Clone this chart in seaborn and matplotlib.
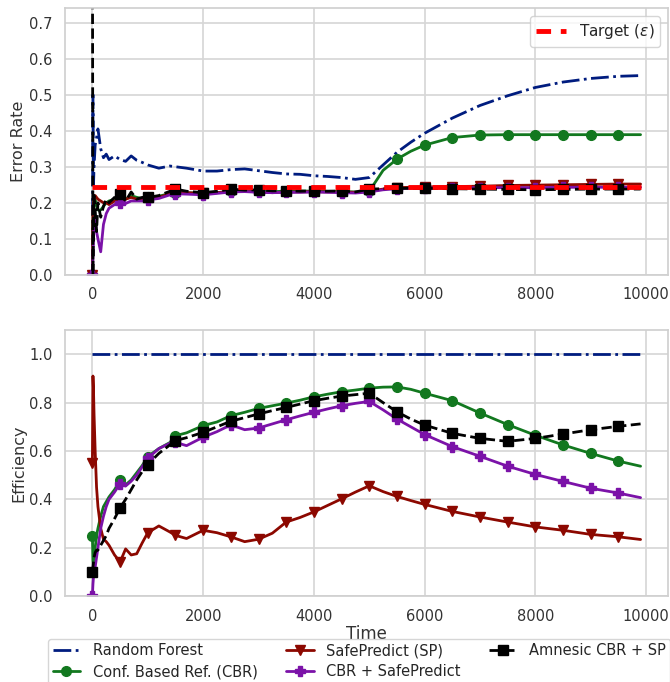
import numpy as np
import pandas as pd
import seaborn as sns
import matplotlib
matplotlib.use("Agg")
import matplotlib.pyplot as plt

# ---------------- data ----------------
time = [0, 10, 20, 30, 50, 75, 100, 150, 200, 250, 300, 400, 500, 600, 700, 800, 900,
        1000, 1200, 1400, 1500, 1700, 2000, 2250, 2500, 2750, 3000, 3250, 3500, 3750,
        4000, 4250, 4500, 4750, 5000, 5250, 5500, 5750, 6000, 6500, 7000, 7500, 8000,
        8500, 9000, 9500, 9900]

# Error rate (top panel)
err_rf = [0.0, 0.50, 0.25, 0.30, 0.36, 0.38, 0.405, 0.35, 0.325, 0.335, 0.32, 0.33, 0.32,
          0.315, 0.33, 0.318, 0.312, 0.305, 0.296, 0.302, 0.300, 0.296, 0.288, 0.288, 0.292,
          0.294, 0.289, 0.284, 0.280, 0.279, 0.275, 0.273, 0.270, 0.265, 0.270, 0.305, 0.340,
          0.368, 0.393, 0.435, 0.470, 0.497, 0.520, 0.535, 0.545, 0.551, 0.553]
err_cbr = [0.0, 0.15, 0.20, 0.22, 0.21, 0.19, 0.18, 0.18, 0.19, 0.20, 0.205, 0.21, 0.215,
           0.21, 0.22, 0.215, 0.212, 0.215, 0.218, 0.226, 0.228, 0.228, 0.226, 0.228, 0.232,
           0.233, 0.232, 0.231, 0.232, 0.233, 0.232, 0.232, 0.231, 0.230, 0.232, 0.290, 0.321,
           0.343, 0.360, 0.381, 0.388, 0.389, 0.389, 0.389, 0.389, 0.389, 0.389]
err_sp = [0.0, 0.18, 0.20, 0.21, 0.22, 0.215, 0.21, 0.205, 0.20, 0.20, 0.195, 0.205, 0.205,
          0.21, 0.215, 0.21, 0.21, 0.212, 0.215, 0.225, 0.228, 0.228, 0.226, 0.228, 0.232,
          0.232, 0.230, 0.228, 0.230, 0.230, 0.231, 0.230, 0.230, 0.229, 0.232, 0.238, 0.242,
          0.243, 0.244, 0.245, 0.246, 0.248, 0.249, 0.250, 0.251, 0.252, 0.252]
err_cbr_sp = [0.0, 0.05, 0.10, 0.14, 0.16, 0.12, 0.10, 0.064, 0.14, 0.17, 0.185, 0.195, 0.20,
              0.198, 0.205, 0.205, 0.205, 0.208, 0.212, 0.222, 0.225, 0.224, 0.222, 0.226,
              0.230, 0.231, 0.229, 0.228, 0.229, 0.229, 0.230, 0.229, 0.228, 0.227, 0.230,
              0.236, 0.239, 0.240, 0.241, 0.241, 0.242, 0.242, 0.242, 0.243, 0.243, 0.243, 0.243]
err_amn = [1.0, 0.0, 0.15, 0.22, 0.18, 0.12, 0.20, 0.16, 0.19, 0.21, 0.20, 0.215, 0.225,
           0.205, 0.23, 0.21, 0.215, 0.215, 0.22, 0.232, 0.238, 0.232, 0.228, 0.232, 0.238,
           0.235, 0.236, 0.233, 0.234, 0.232, 0.233, 0.232, 0.233, 0.230, 0.238, 0.239, 0.240,
           0.240, 0.240, 0.239, 0.238, 0.237, 0.236, 0.237, 0.238, 0.238, 0.238]
target_eps = 0.245

# Efficiency (bottom panel)
eff_rf_time = [0, 9900]
eff_rf = [1.0, 1.0]
eff_cbr = [0.25, 0.15, 0.12, 0.16, 0.20, 0.25, 0.28, 0.33, 0.37, 0.39, 0.41, 0.44, 0.478,
           0.46, 0.48, 0.51, 0.54, 0.577, 0.61, 0.635, 0.663, 0.675, 0.705, 0.72, 0.746,
           0.76, 0.776, 0.787, 0.798, 0.81, 0.824, 0.835, 0.845, 0.852, 0.86, 0.864, 0.865,
           0.855, 0.839, 0.808, 0.757, 0.709, 0.665, 0.625, 0.59, 0.558, 0.537]
eff_sp = [0.55, 0.91, 0.85, 0.75, 0.60, 0.45, 0.37, 0.28, 0.235, 0.225, 0.21, 0.17, 0.141,
          0.195, 0.17, 0.175, 0.22, 0.262, 0.29, 0.265, 0.251, 0.238, 0.272, 0.262, 0.245,
          0.225, 0.235, 0.26, 0.306, 0.325, 0.348, 0.375, 0.402, 0.43, 0.456, 0.432, 0.412,
          0.395, 0.379, 0.35, 0.327, 0.306, 0.286, 0.272, 0.255, 0.245, 0.234]
eff_cbr_sp = [0.0, 0.05, 0.08, 0.10, 0.12, 0.16, 0.20, 0.28, 0.33, 0.37, 0.40, 0.43, 0.465,
              0.455, 0.475, 0.50, 0.535, 0.57, 0.61, 0.632, 0.636, 0.622, 0.657, 0.68, 0.708,
              0.688, 0.695, 0.712, 0.729, 0.745, 0.76, 0.774, 0.787, 0.797, 0.805, 0.77,
              0.732, 0.70, 0.668, 0.618, 0.578, 0.537, 0.503, 0.474, 0.446, 0.426, 0.407]
eff_amn = [0.10, 0.12, 0.14, 0.16, 0.18, 0.19, 0.19, 0.21, 0.23, 0.25, 0.28, 0.32, 0.365,
           0.40, 0.44, 0.48, 0.515, 0.544, 0.59, 0.625, 0.643, 0.655, 0.677, 0.70, 0.723,
           0.738, 0.753, 0.767, 0.78, 0.794, 0.808, 0.818, 0.827, 0.833, 0.839, 0.80, 0.762,
           0.732, 0.707, 0.673, 0.652, 0.640, 0.652, 0.670, 0.688, 0.702, 0.712]

labels = ["Random Forest", "Conf. Based Ref. (CBR)", "SafePredict (SP)",
          "CBR + SafePredict", "Amnesic CBR + SP"]
xticks = [0, 2000, 4000, 6000, 8000, 10000]

# ---------------- style ----------------
sns.set_theme(style="whitegrid")
plt.rcParams["font.family"] = ["DejaVu Sans"]
plt.rcParams["axes.edgecolor"] = "#d0d0d0"
plt.rcParams["grid.color"] = "#d6d6d6"
plt.rcParams["grid.linewidth"] = 1.2

C_RF = "#001c7f"
C_CBR = "#12781f"
C_SP = "#8c0800"
C_CS = "#7b12a8"
C_AM = "#000000"

fig = plt.figure(figsize=(6.70, 6.82), dpi=100)
ax1 = fig.add_axes([0.097, 0.597, 0.900, 0.391])
ax2 = fig.add_axes([0.097, 0.126, 0.900, 0.390])

mark_idx = [i for i, t in enumerate(time) if t % 500 == 0]

def draw(ax, series_rf, t_rf, series):
    sns.lineplot(x=t_rf, y=series_rf, ax=ax, color=C_RF, lw=2, linestyle="-.",
                 label=labels[0], legend=False)
    styles = [
        (series[0], C_CBR, "-", "o", labels[1]),
        (series[1], C_SP, "-", "v", labels[2]),
        (series[2], C_CS, "-", "P", labels[3]),
        (series[3], C_AM, "--", "s", labels[4]),
    ]
    for ys, c, ls, m, lab in styles:
        ax.plot(time, ys, color=c, lw=2, linestyle=ls, marker=m, markersize=7,
                markevery=mark_idx, label=lab)

draw(ax1, err_rf, time, [err_cbr, err_sp, err_cbr_sp, err_amn])
tl = ax1.axhline(target_eps, xmin=0.045, xmax=0.955, color="#ff0000", lw=3.5,
                 linestyle=(0, (3, 2)), label="Target ($\\epsilon$)", zorder=5)
ax1.set_ylim(0, 0.74)
ax1.set_xlim(-495, 10395)
ax1.set_xticks(xticks)
ax1.set_yticks([0.0, 0.1, 0.2, 0.3, 0.4, 0.5, 0.6, 0.7])
ax1.set_ylabel("Error Rate", fontsize=11.5, color="#333333", labelpad=2)
ax1.legend(handles=[tl], loc="upper right", fontsize=11, frameon=True,
           handlelength=2.0)

draw(ax2, eff_rf, eff_rf_time, [eff_cbr, eff_sp, eff_cbr_sp, eff_amn])
ax2.set_ylim(0, 1.1)
ax2.set_xlim(-495, 10395)
ax2.set_xticks(xticks)
ax2.set_yticks([0.0, 0.2, 0.4, 0.6, 0.8, 1.0])
ax2.set_ylabel("Efficiency", fontsize=11.5, color="#333333", labelpad=2)
ax2.set_xlabel("Time", fontsize=12, color="#333333", labelpad=1)

for ax in (ax1, ax2):
    ax.tick_params(labelsize=10.5, colors="#333333", pad=3)
    for s in ax.spines.values():
        s.set_color("#d0d0d0")

h, l = ax2.get_legend_handles_labels()
fig.legend(h, l, loc="upper left", bbox_to_anchor=(0.072, 0.063), ncol=3,
           fontsize=10.5, frameon=True, handlelength=1.9, handletextpad=0.85,
           columnspacing=1.95, borderaxespad=0, labelspacing=0.4, borderpad=0.3)

fig.savefig("out.png", dpi=100)
